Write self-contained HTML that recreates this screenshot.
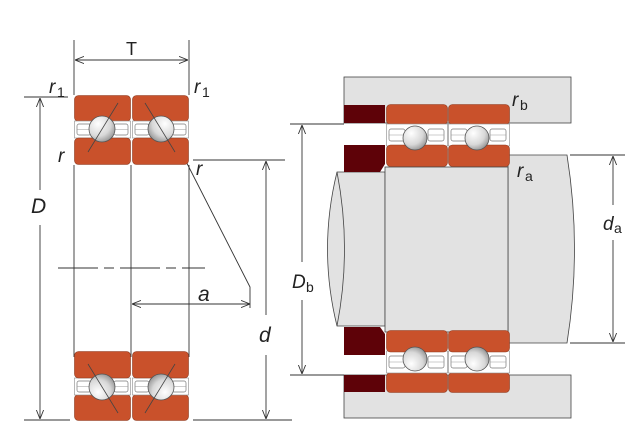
<!DOCTYPE html>
<html><head><meta charset="utf-8"><style>
html,body{margin:0;padding:0;background:#fff}
svg{display:block}
text{font-family:"Liberation Sans",sans-serif;fill:#222}
.i{font-style:italic}
</style></head><body>
<svg width="640" height="440" viewBox="0 0 640 440" xmlns="http://www.w3.org/2000/svg">
<defs>
<radialGradient id="bg" cx="0.35" cy="0.3" r="0.8">
<stop offset="0" stop-color="#ffffff"/><stop offset="0.6" stop-color="#d8d8d8"/><stop offset="1" stop-color="#8a8a8a"/>
</radialGradient>
<marker id="ar" viewBox="0 0 10 10" refX="10" refY="5" markerWidth="9" markerHeight="9" orient="auto-start-reverse" markerUnits="userSpaceOnUse">
<path d="M0,1 L10,5 L0,9" fill="none" stroke="#333" stroke-width="1"/>
</marker>
<symbol id="brg" viewBox="0 0 57 70" width="57" height="70" preserveAspectRatio="none">
<rect x="0.5" y="0.5" width="56" height="26" rx="4" fill="#C9512B" stroke="#8a3a20" stroke-width="0.6"/>
<rect x="0.5" y="26" width="56" height="17" fill="#fff" stroke="#888" stroke-width="0.6"/>
<rect x="3" y="29" width="14" height="11" rx="2" fill="#fff" stroke="#777" stroke-width="0.7"/>
<rect x="40" y="29" width="14" height="11" rx="2" fill="#fff" stroke="#777" stroke-width="0.7"/>
<line x1="3" y1="34.5" x2="17" y2="34.5" stroke="#999" stroke-width="0.5"/>
<line x1="40" y1="34.5" x2="54" y2="34.5" stroke="#999" stroke-width="0.5"/>
<rect x="0.5" y="43" width="56" height="26.5" rx="4" fill="#C9512B" stroke="#8a3a20" stroke-width="0.6"/>
<circle cx="28" cy="34" r="13" fill="url(#bg)" stroke="#555" stroke-width="0.8"/>
<line x1="44" y1="8" x2="14" y2="57" stroke="#444" stroke-width="0.8"/>
</symbol>
<symbol id="brg2" viewBox="0 0 62 63" width="62" height="63" preserveAspectRatio="none">
<rect x="0.5" y="0.5" width="61" height="20" rx="4" fill="#C9512B" stroke="#8a3a20" stroke-width="0.6"/>
<rect x="0.5" y="20" width="61" height="22" fill="#fff" stroke="#888" stroke-width="0.6"/>
<rect x="3" y="25" width="16" height="12" rx="2" fill="#fff" stroke="#777" stroke-width="0.7"/>
<rect x="42" y="25" width="16" height="12" rx="2" fill="#fff" stroke="#777" stroke-width="0.7"/>
<line x1="3" y1="31" x2="19" y2="31" stroke="#999" stroke-width="0.5"/>
<line x1="42" y1="31" x2="58" y2="31" stroke="#999" stroke-width="0.5"/>
<rect x="0.5" y="41" width="61" height="21.5" rx="4" fill="#C9512B" stroke="#8a3a20" stroke-width="0.6"/>
<circle cx="29" cy="34" r="12" fill="url(#bg)" stroke="#555" stroke-width="0.8"/>
</symbol>
</defs>

<!-- LEFT DIAGRAM -->
<g stroke="#333" stroke-width="0.9" fill="none">
<line x1="74" y1="40" x2="74" y2="95"/><line x1="189" y1="40" x2="189" y2="95"/>
<line x1="75" y1="60" x2="188" y2="60" marker-start="url(#ar)" marker-end="url(#ar)"/>
<line x1="24" y1="97" x2="68" y2="97"/><line x1="24" y1="420" x2="70" y2="420"/>
<line x1="40" y1="98" x2="40" y2="190" marker-start="url(#ar)"/>
<line x1="40" y1="225" x2="40" y2="419" marker-end="url(#ar)"/>
<line x1="193" y1="160" x2="285" y2="160"/><line x1="193" y1="420" x2="292" y2="420"/>
<line x1="266" y1="161" x2="266" y2="315" marker-start="url(#ar)"/>
<line x1="266" y1="355" x2="266" y2="419" marker-end="url(#ar)"/>
<line x1="74" y1="165" x2="74" y2="357"/><line x1="131" y1="165" x2="131" y2="357"/><line x1="189" y1="165" x2="189" y2="357"/>
<line x1="58" y1="268" x2="205" y2="268" stroke-dasharray="40,6,10,6"/>
<line x1="132" y1="304" x2="250" y2="304" marker-start="url(#ar)" marker-end="url(#ar)"/>
<polyline points="170,130 250,287 250,308"/>
</g>
<use href="#brg" x="74" y="95"/>
<use href="#brg" transform="translate(189,95) scale(-1,1)"/>
<use href="#brg" transform="translate(74,421) scale(1,-1)"/>
<use href="#brg" transform="translate(189,421) scale(-1,-1)"/>

<text x="126" y="55" font-size="18">T</text>
<text x="49" y="93" font-size="19" class="i">r</text><text x="57" y="97" font-size="14">1</text>
<text x="194" y="93" font-size="19" class="i">r</text><text x="202" y="97" font-size="14">1</text>
<text x="58" y="162" font-size="19" class="i">r</text>
<text x="196" y="175" font-size="19" class="i">r</text>
<text x="31" y="213" font-size="21" class="i">D</text>
<text x="198" y="301" font-size="21" class="i">a</text>
<text x="259" y="342" font-size="21" class="i">d</text>

<!-- RIGHT DIAGRAM -->
<g stroke="#444" stroke-width="0.8">
<path d="M508,155 L567,155 Q582,249 567,343 L508,343 Z" fill="#e2e2e2"/>
<path d="M337,172 L385,172 L385,326 L337,326 Q318,249 337,172 Z" fill="#e2e2e2"/>
<path d="M337,172 Q352,249 337,326" fill="none"/>
<rect x="385" y="167" width="123" height="165" fill="#e2e2e2"/>
<rect x="344" y="77" width="227" height="46" fill="#e2e2e2"/>
<rect x="344" y="375" width="227" height="43" fill="#e2e2e2"/>
</g>
<g fill="#5e0208">
<rect x="344" y="105" width="41" height="18"/>
<path d="M344,145 L385,145 L385,164 L380,172 L344,172 Z"/>
<path d="M344,327 L380,327 L385,334 L385,355 L344,355 Z"/>
<rect x="344" y="375" width="41" height="17"/>
</g>
<g stroke="#333" stroke-width="0.9" fill="none">
<line x1="290" y1="124" x2="344" y2="124"/><line x1="290" y1="375" x2="344" y2="375"/>
<line x1="302" y1="125" x2="302" y2="262" marker-start="url(#ar)"/>
<line x1="302" y1="300" x2="302" y2="374" marker-end="url(#ar)"/>
<line x1="570" y1="155" x2="625" y2="155"/><line x1="570" y1="343" x2="625" y2="343"/>
<line x1="613" y1="156" x2="613" y2="205" marker-start="url(#ar)"/>
<line x1="613" y1="240" x2="613" y2="342" marker-end="url(#ar)"/>
</g>
<use href="#brg2" x="386" y="104" width="62" height="63"/>
<use href="#brg2" x="448" y="104" width="62" height="63"/>
<use href="#brg2" transform="translate(386,393) scale(1,-1)" width="62" height="63"/>
<use href="#brg2" transform="translate(448,393) scale(1,-1)" width="62" height="63"/>

<text x="512" y="106" font-size="19" class="i">r</text><text x="520" y="110" font-size="14">b</text>
<text x="517" y="177" font-size="19" class="i">r</text><text x="525" y="181" font-size="14">a</text>
<text x="292" y="288" font-size="19" class="i">D</text><text x="306" y="292" font-size="14">b</text>
<text x="603" y="230" font-size="19" class="i">d</text><text x="614" y="233" font-size="14">a</text>
</svg>
</body></html>
